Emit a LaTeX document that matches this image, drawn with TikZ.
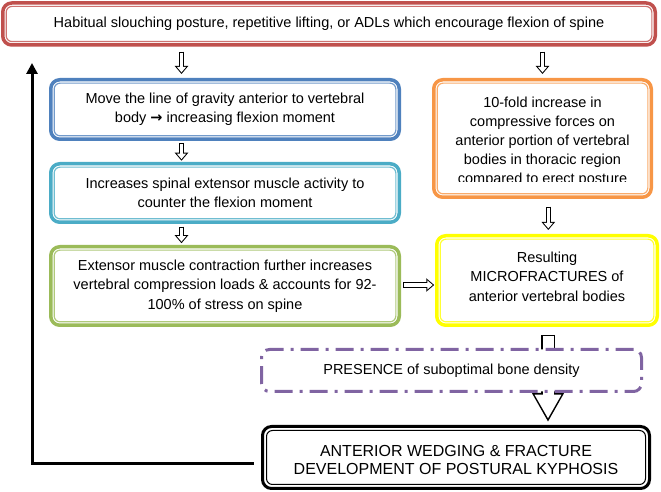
\documentclass[tikz,border=0pt]{standalone}
\usepackage{fontspec}
\setmainfont{Liberation Sans}
\newfontfamily\arrowfont{DejaVu Sans}
\usetikzlibrary{positioning,arrows.meta}

\definecolor{habitred}{HTML}{C0504D}
\definecolor{gravityblue}{HTML}{4F81BD}
\definecolor{extensorcyan}{HTML}{4BACC6}
\definecolor{contractgreen}{HTML}{9BBB59}
\definecolor{compressorange}{HTML}{F79646}
\definecolor{microyellow}{HTML}{FFFF00}
\definecolor{densityviolet}{HTML}{8064A2}

\begin{document}
\begin{tikzpicture}
    [ x = 1pt, y = 1pt
    , box/.style =
      { draw = #1, fill = white, line width = 3.5pt, rounded corners = 9pt
      , outer sep = 0pt, inner sep = 0pt, align = center
      , font = \fontsize{14.5}{19.5}\selectfont }
    , innerline/.style =
      { draw = #1!80, line width = 1.2pt, rounded corners = 6pt }
    , maybe/.style =
      { draw = densityviolet, fill = white, line width = 3pt, rounded corners = 8pt
      , dash pattern = on 18pt off 7pt on 3pt off 7pt
      , outer sep = 0pt, inner sep = 0pt
      , font = \fontsize{14.5}{19.5}\selectfont }
    , result/.style =
      { draw, fill = white, line width = 3pt, rounded corners = 9pt
      , outer sep = 0pt, inner sep = 0pt, align = center
      , font = \fontsize{16}{18}\selectfont }
    , hollow/.style =
      { draw = white, line width = 3.5pt, shorten <=1pt, shorten >=1.6pt
      , -{Triangle[length=5.4pt, width=8.8pt]}
      , preaction =
        { draw = black, line width = 5.5pt, shorten <=0pt, shorten >=0pt
        , -{Triangle[length=8pt, width=13pt]} } }
    , bighollow/.style =
      { draw = white, line width = 11pt, shorten <=1.5pt, shorten >=3.3pt
      , -{Triangle[length=24pt, width=25pt]}
      , preaction =
        { draw = black, line width = 14pt, shorten <=0pt, shorten >=0pt
        , -{Triangle[length=29pt, width=30pt]} } }
    , back/.style =
      { line width = 3pt, -{Triangle[length=11pt, width=11pt]} }
    ]
    \useasboundingbox (0,0) rectangle (661,492);

    \node [box=habitred, minimum width=652.5, minimum height=42] (habit) at (329,468)
      {Habitual slouching posture, repetitive lifting, or ADLs which encourage flexion of spine};
    \node [box=gravityblue, minimum width=348.5, minimum height=59.5]
      (gravity) [below right=34.75pt and 48pt of habit.south west]
      {Move the line of gravity anterior to vertebral\\ body {\arrowfont\bfseries →} increasing flexion moment};
    \node [box=extensorcyan, minimum width=348.5, minimum height=58.5]
      (extensor) [below=24.5pt of gravity]
      {Increases spinal extensor muscle activity to\\ counter the flexion moment};
    \node [box=contractgreen, minimum width=348.5, minimum height=78.5]
      (contraction) [below=24.5pt of extensor]
      {Extensor muscle contraction further increases\\ vertebral compression loads \& accounts for 92-\\ 100\% of stress on spine};
    \node [box=compressorange, minimum width=217.5, minimum height=117.5,
      font=\fontsize{14.5}{19}\selectfont]
      (compress) [right=34.5pt of gravity.north east, anchor=north west]
      {\rule{0pt}{16.5pt}10-fold increase in\\ compressive forces on\\ anterior portion of vertebral\\ bodies in thoracic region\\ compared to erect posture};
    \node [box=microyellow, minimum width=220.5, minimum height=89.5]
      (micro) [below right=38.5pt and 3pt of compress.south west]
      {Resulting\\ MICROFRACTURES of\\ anterior vertebral bodies\rule[-8pt]{0pt}{8pt}};
    \node [result, minimum width=387, minimum height=62] (kyphosis) at (456,34.5)
      {\rule{0pt}{16pt}ANTERIOR WEDGING \& FRACTURE\\ DEVELOPMENT OF POSTURAL KYPHOSIS};

    % last line of the orange box is cut off
    \fill [white] ([shift={(4pt,4pt)}]compress.south west)
      rectangle ([shift={(-4pt,15pt)}]compress.south east);

    \foreach \n/\c in {habit/habitred, gravity/gravityblue, extensor/extensorcyan,
      contraction/contractgreen, compress/compressorange, micro/microyellow}
      \draw [innerline=\c] ([shift={(3.4pt,3.4pt)}]\n.south west)
        rectangle ([shift={(-3.4pt,-3.4pt)}]\n.north east);
    \draw [line width=1pt, rounded corners=6pt] ([shift={(4pt,4pt)}]kyphosis.south west)
      rectangle ([shift={(-4pt,-4pt)}]kyphosis.north east);

    \draw [hollow] ([xshift=-43.5pt,yshift=-6.75pt]gravity.north |- habit.south)
      -- ([xshift=-43.5pt,yshift=5.75pt]gravity.north);
    \draw [hollow] ([xshift=-43.5pt,yshift=-4pt]gravity.south)
      -- ([xshift=-43.5pt,yshift=3pt]extensor.north);
    \draw [hollow] ([xshift=-43.5pt,yshift=-4.5pt]extensor.south)
      -- ([xshift=-43.5pt,yshift=3.5pt]contraction.north);
    \draw [hollow] ([yshift=-6.75pt]compress.north |- habit.south)
      -- ([yshift=5.75pt]compress.north);
    \draw [hollow] ([xshift=5.8pt,yshift=-9.5pt]compress.south)
      -- ([xshift=5.8pt,yshift=5.75pt]compress.south |- micro.north);
    \draw [hollow] ([xshift=4pt,yshift=1pt]contraction.east)
      -- ([xshift=-2.5pt,yshift=1pt]contraction.east -| micro.west);

    % wide arrow runs behind the dashed box
    \draw [bighollow] ([xshift=1pt,yshift=-9.75pt]micro.south)
      -- ([xshift=1pt,yshift=4.5pt]kyphosis.north -| micro.south);
    \node [maybe, minimum width=380, minimum height=42] (density) at (451.5,121.5)
      {PRESENCE of suboptimal bone density};

    \coordinate (backtip) at (32,429);
    \draw [back] ([xshift=-9pt,yshift=-6.5pt]kyphosis.west) -| (backtip);
\end{tikzpicture}
\end{document}
